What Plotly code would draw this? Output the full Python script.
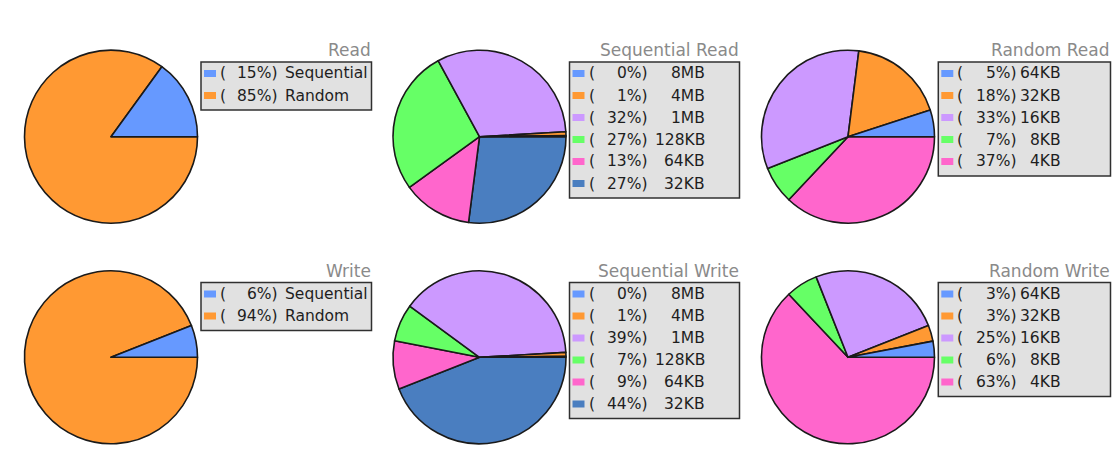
import plotly.graph_objects as go

W, H = 1113, 454

# ---------------- data (percent shares read from the legends) ----------------
rw_labels = ["Sequential", "Random"]
read_values = [15, 85]
write_values = [6, 94]

seq_labels = ["8MB", "4MB", "1MB", "128KB", "64KB", "32KB"]
seq_read_values = [0.2, 0.7, 32, 27, 13, 27]
seq_write_values = [0.2, 0.7, 39, 7, 9, 44]

rand_labels = ["64KB", "32KB", "16KB", "8KB", "4KB"]
rand_read_values = [5, 18, 33, 7, 37]
rand_write_values = [3, 3, 25, 6, 63]

titles = ["Read", "Sequential Read", "Random Read",
          "Write", "Sequential Write", "Random Write"]

# ---------------- styles ----------------
BLUE, ORANGE, LAV, GREEN, PINK, STEEL = ("#6699FF", "#FF9933", "#CC99FF",
                                         "#66FF66", "#FF66CC", "#4A7EC0")
rw_colors = [BLUE, ORANGE]
seq_colors = [BLUE, ORANGE, LAV, GREEN, PINK, STEEL]
rand_colors = [BLUE, ORANGE, LAV, GREEN, PINK]

FONT = "DejaVu Sans"
LEG_SIZE = 15.5
TITLE_SIZE = 17
ROW_H = 22.0
R = 86.5

col_cx = [111, 479.5, 848]
col_box_left = [201, 569.5, 938.3]
col_box_right = [371.5, 739.5, 1110.5]
col_pct_right = [78, 79, 80]          # relative to box left
col_label = [("left", 83), ("right", 136), ("right", 124)]
row_cy = [136.7, 357.3]
row_box_top = [62, 282.5]

panels = [
    (rw_labels, read_values, rw_colors),
    (seq_labels, seq_read_values, seq_colors),
    (rand_labels, rand_read_values, rand_colors),
    (rw_labels, write_values, rw_colors),
    (seq_labels, seq_write_values, seq_colors),
    (rand_labels, rand_write_values, rand_colors),
]


def px(x):
    return x / W


def py(y):
    return 1 - y / H


fig = go.Figure()
shapes = []
annotations = []

for k, (labels, values, colors) in enumerate(panels):
    row, col = divmod(k, 3)
    cx, cy = col_cx[col], row_cy[row]
    # slices run counter-clockwise from 3 o'clock: draw clockwise in reverse order
    fig.add_trace(go.Pie(
        labels=labels[::-1], values=values[::-1], sort=False,
        direction="clockwise", rotation=90,
        marker=dict(colors=colors[::-1], line=dict(color="#1a1a1a", width=1.6)),
        textinfo="none", showlegend=False, name=titles[k],
        domain=dict(x=[px(cx - R), px(cx + R)], y=[py(cy + R), py(cy - R)]),
    ))

    L, Rt, T = col_box_left[col], col_box_right[col], row_box_top[row]
    n = len(labels)
    B = T + n * ROW_H + 4
    shapes.append(dict(type="rect", xref="paper", yref="paper",
                       x0=px(L), x1=px(Rt), y0=py(B), y1=py(T),
                       fillcolor="#e1e1e1", line=dict(color="#303030", width=1.5),
                       layer="below"))
    annotations.append(dict(xref="paper", yref="paper", x=px(Rt + 1), y=py(T - 12),
                            xanchor="right", yanchor="middle", showarrow=False,
                            text=titles[k],
                            font=dict(family=FONT, size=TITLE_SIZE, color="#8a8a8a")))
    total = sum(values)
    lab_anchor, lab_x = col_label[col]
    for i, (lab, v, c) in enumerate(zip(labels, values, colors)):
        yc = T + 11.5 + i * ROW_H
        shapes.append(dict(type="rect", xref="paper", yref="paper",
                           x0=px(L + 3), x1=px(L + 15), y0=py(yc + 3.5), y1=py(yc - 3.5),
                           fillcolor=c, line=dict(width=0)))
        pct = round(100 * v / total)
        f = dict(family=FONT, size=LEG_SIZE, color="#1e1e1e")
        annotations.append(dict(xref="paper", yref="paper", x=px(L + 17), y=py(yc),
                                xanchor="left", yanchor="middle", showarrow=False,
                                text="(", font=f))
        annotations.append(dict(xref="paper", yref="paper", x=px(L + col_pct_right[col] + 1), y=py(yc),
                                xanchor="right", yanchor="middle", showarrow=False,
                                text=f"{pct}%)", font=f))
        annotations.append(dict(xref="paper", yref="paper",
                                x=px(L + lab_x + (1 if lab_anchor == "right" else -1)), y=py(yc),
                                xanchor=lab_anchor, yanchor="middle", showarrow=False,
                                text=lab, font=f))

fig.update_layout(
    width=W, height=H, autosize=False,
    margin=dict(l=0, r=0, t=0, b=0),
    paper_bgcolor="white", plot_bgcolor="white",
    shapes=shapes, annotations=annotations,
    font=dict(family=FONT),
)

fig.write_html("out.html",
               config={"displayModeBar": False},
               post_script="document.body.style.margin='0px';"
                           "document.body.style.overflow='hidden';")
